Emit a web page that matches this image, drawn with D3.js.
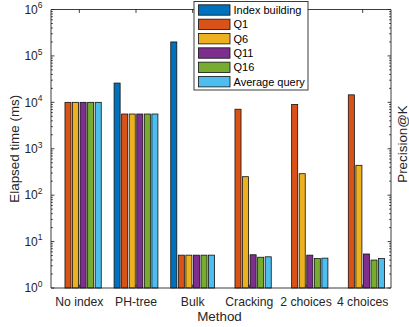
<!DOCTYPE html>
<html>
<head>
<meta charset="utf-8">
<script src="https://cdn.jsdelivr.net/npm/d3@7"></script>
<style>
  html, body { margin: 0; padding: 0; background: #fff; }
  svg { display: block; font-family: "Liberation Sans", Arial, sans-serif; }
</style>
</head>
<body>
<svg id="chart" width="409" height="327"></svg>
<script>
// Methods on the x axis
const methods = ["No index", "PH-tree", "Bulk", "Cracking", "2 choices", "4 choices"];
// Series names (legend order)
const seriesNames = ["Index building", "Q1", "Q6", "Q11", "Q16", "Average query"];
const seriesColors = ["#0072BD", "#D95319", "#EDB120", "#7E2F8E", "#77AC30", "#4DBEEE"];
// Elapsed time (ms) per method, one array per series; null = not applicable
const indexBuilding = [null, 26000, 200000, null, null, null];
const q1  = [10000, 5600, 5.1, 7100, 9000, 14500];
const q6  = [10000, 5600, 5.1, 250, 290, 440];
const q11 = [10000, 5600, 5.1, 5.2, 5.1, 5.4];
const q16 = [10000, 5600, 5.1, 4.6, 4.3, 4.0];
const avgQuery = [10000, 5600, 5.1, 4.7, 4.4, 4.3];
const yTickExponents = [0, 1, 2, 3, 4, 5, 6];

const seriesValues = [indexBuilding, q1, q6, q11, q16, avgQuery];

(function draw() {
  const svg = d3.select("#chart");
  const pLeft = 51, pRight = 391, pTop = 9.5, pBottom = 288;
  const axisColor = "#262626";

  const x = d3.scaleBand().domain(methods).range([pLeft, pRight])
    .paddingInner(0.2).paddingOuter(0.1);
  const xs = d3.scaleBand().domain(seriesNames).range([0, x.bandwidth()])
    .paddingInner(0.2).paddingOuter(0.1);
  const y = d3.scaleLog().domain([1, 1e6]).range([pBottom, pTop]);
  const center = m => x(m) + x.bandwidth() / 2;

  // Bars
  const bars = [];
  seriesValues.forEach((vals, si) => {
    vals.forEach((v, mi) => {
      if (v != null) bars.push({ s: seriesNames[si], m: methods[mi], v, c: seriesColors[si] });
    });
  });
  svg.append("g").selectAll("rect").data(bars).join("rect")
    .attr("x", d => x(d.m) + xs(d.s))
    .attr("width", xs.bandwidth())
    .attr("y", d => y(d.v))
    .attr("height", d => y(1) - y(d.v))
    .attr("fill", d => d.c)
    .attr("stroke", "#111")
    .attr("stroke-width", 0.8);

  // Box
  const g = svg.append("g").attr("stroke", axisColor).attr("stroke-width", 0.9).attr("fill", "none");
  g.append("line").attr("x1", pLeft).attr("x2", pRight).attr("y1", pBottom).attr("y2", pBottom);
  g.append("line").attr("x1", pLeft).attr("x2", pRight).attr("y1", pTop).attr("y2", pTop);
  g.append("line").attr("x1", pLeft).attr("x2", pLeft).attr("y1", pTop).attr("y2", pBottom);
  g.append("line").attr("x1", pRight).attr("x2", pRight).attr("y1", pTop).attr("y2", pBottom);

  // Log ticks, major and minor, on both vertical sides (pointing inward)
  const majorTicks = yTickExponents.map(e => Math.pow(10, e));
  const minorTicks = [];
  for (let e = 0; e < 6; e++) for (let k = 2; k <= 9; k++) minorTicks.push(k * Math.pow(10, e));
  [[majorTicks, 3.4], [minorTicks, 1.8]].forEach(([vals, len]) => {
    g.selectAll(null).data(vals).join("line")
      .attr("x1", pLeft).attr("x2", pLeft + len)
      .attr("y1", d => y(d)).attr("y2", d => y(d));
    g.selectAll(null).data(vals).join("line")
      .attr("x1", pRight).attr("x2", pRight - len)
      .attr("y1", d => y(d)).attr("y2", d => y(d));
  });
  // Category ticks on top and bottom
  g.selectAll(null).data(methods).join("line")
    .attr("x1", center).attr("x2", center).attr("y1", pTop).attr("y2", pTop + 3.4);
  g.selectAll(null).data(methods).join("line")
    .attr("x1", center).attr("x2", center).attr("y1", pBottom).attr("y2", pBottom - 3.4);

  // Y tick labels as powers of ten
  const yl = svg.append("g").attr("fill", axisColor).attr("font-size", 12);
  yTickExponents.forEach(e => {
    const t = yl.append("text").attr("x", 42.5).attr("y", y(Math.pow(10, e)) + 4.3)
      .attr("text-anchor", "end");
    t.append("tspan").text("10");
    t.append("tspan").attr("dy", -5.5).attr("font-size", 8.5).text(e);
  });

  // X tick labels
  svg.append("g").attr("fill", axisColor).attr("font-size", 12.2)
    .selectAll("text").data(methods).join("text")
    .attr("x", center).attr("y", 306).attr("text-anchor", "middle").text(d => d);

  // Axis titles
  svg.append("text").attr("x", (pLeft + pRight) / 2 - 1.5).attr("y", 320.5)
    .attr("text-anchor", "middle").attr("font-size", 13.4).attr("fill", axisColor).text("Method");
  svg.append("text").attr("transform", `translate(19,${(pTop + pBottom) / 2}) rotate(-90)`)
    .attr("text-anchor", "middle").attr("font-size", 13.4).attr("fill", axisColor).text("Elapsed time (ms)");
  svg.append("text").attr("transform", `translate(407,144) rotate(-90)`)
    .attr("text-anchor", "middle").attr("font-size", 13.4).attr("fill", axisColor).text("Precision@K");

  // Legend
  const lg = svg.append("g");
  lg.append("rect").attr("x", 194).attr("y", 1.5).attr("width", 114).attr("height", 88.5)
    .attr("fill", "#fff").attr("stroke", axisColor).attr("stroke-width", 0.9);
  const rowY = d3.scalePoint().domain(seriesNames).range([10, 81.7]);
  seriesNames.forEach((s, i) => {
    lg.append("rect").attr("x", 198.5).attr("y", rowY(s) - 5.2).attr("width", 31.5).attr("height", 10.4)
      .attr("fill", seriesColors[i]).attr("stroke", "#111").attr("stroke-width", 0.8);
    lg.append("text").attr("x", 233.5).attr("y", rowY(s) + 4).attr("font-size", 11)
      .attr("fill", "#000").text(s);
  });
})();
</script>
</body>
</html>
